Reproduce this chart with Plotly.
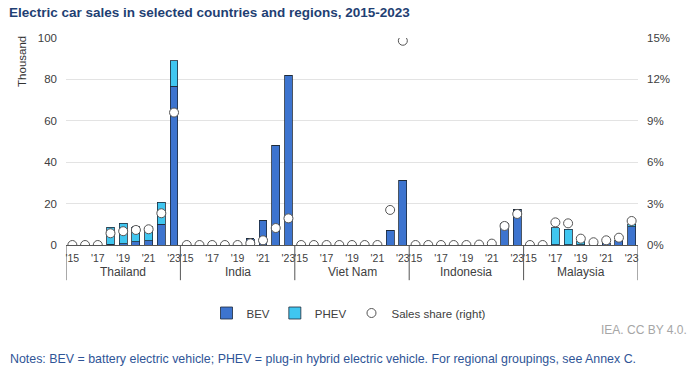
import plotly.graph_objects as go

countries = ["Thailand", "India", "Viet Nam", "Indonesia", "Malaysia"]
years = ["'15", "'16", "'17", "'18", "'19", "'20", "'21", "'22", "'23"]

bev_thailand = [0, 0, 0, 0.3, 0.6, 1.5, 2.1, 10.0, 76.7]
phev_thailand = [0, 0, 0, 8.2, 9.9, 7.4, 6.8, 10.6, 12.2]
share_thailand = [0, 0, 0, 0.85, 1.0, 1.09, 1.14, 2.3, 9.6]

bev_india = [0, 0, 0, 0, 0, 3.0, 11.8, 48.3, 82.0]
phev_india = [0, 0, 0, 0, 0, 0, 0, 0, 0]
share_india = [0, 0, 0, 0, 0, 0.12, 0.34, 1.23, 1.93]

bev_vietnam = [0, 0, 0, 0, 0, 0, 0, 7.2, 31.4]
phev_vietnam = [0, 0, 0, 0, 0, 0, 0, 0, 0]
share_vietnam = [0, 0, 0, 0, 0, 0, 0, 2.54, 14.8]

bev_indonesia = [0, 0, 0, 0, 0, 0, 0.5, 10.8, 17.2]
phev_indonesia = [0, 0, 0, 0, 0, 0, 0, 0, 0]
share_indonesia = [0, 0, 0, 0, 0, 0.03, 0.1, 1.38, 2.25]

bev_malaysia = [0, 0, 0.1, 0.1, 0.1, 0.3, 0.8, 2.0, 8.9]
phev_malaysia = [0, 0, 8.3, 7.6, 1.9, 0.1, 0.2, 0.4, 1.2]
share_malaysia = [0, 0, 1.64, 1.57, 0.46, 0.2, 0.34, 0.53, 1.74]

bev = bev_thailand + bev_india + bev_vietnam + bev_indonesia + bev_malaysia
phev = phev_thailand + phev_india + phev_vietnam + phev_indonesia + phev_malaysia
share = share_thailand + share_india + share_vietnam + share_indonesia + share_malaysia

n = len(years)
x = list(range(len(countries) * n))

FONT = "Liberation Sans, Arial, sans-serif"
BEV_C = "#3D74CF"
PHEV_C = "#40C6F0"

fig = go.Figure()
fig.add_trace(go.Bar(x=x, y=bev, name="BEV", marker=dict(color=BEV_C, line=dict(color="#1e2a3a", width=0.8)), width=0.62))
fig.add_trace(go.Bar(x=x, y=phev, name="PHEV", marker=dict(color=PHEV_C, line=dict(color="#1e2a3a", width=0.8)), width=0.62))
fig.add_trace(go.Scatter(x=x, y=share, name="Sales share (right)", mode="markers", yaxis="y2",
                         marker=dict(symbol="circle", size=9, color="white", line=dict(color="#555555", width=1))))

tickvals = [g * n + i for g in range(len(countries)) for i in range(0, n, 2)]
ticktext = [years[i] for g in range(len(countries)) for i in range(0, n, 2)]

shapes = []
for g in range(len(countries) + 1):
    shapes.append(dict(type="line", xref="x", yref="paper", x0=g * n - 0.5, x1=g * n - 0.5, y0=0, y1=-0.17,
                       line=dict(color="#555555", width=1)))

annotations = []
for g, c in enumerate(countries):
    annotations.append(dict(text=c, xref="x", yref="paper", x=g * n + (n - 1) / 2, y=-0.13, showarrow=False,
                            xanchor="center", yanchor="middle", font=dict(size=12, color="#404040", family=FONT)))
annotations.append(dict(text="Thousand", xref="paper", yref="paper", x=-0.077, y=0.889, textangle=-90,
                        showarrow=False, xanchor="center", yanchor="middle", font=dict(size=11.5, color="#333333", family=FONT)))
annotations.append(dict(text="IEA. CC BY 4.0.", xref="paper", yref="paper", x=1.089, y=(245 - 330) / 207, showarrow=False,
                        xanchor="right", yanchor="middle", font=dict(size=12, color="#a6a6a6", family=FONT)))
annotations.append(dict(text="Notes: BEV = battery electric vehicle; PHEV = plug-in hybrid electric vehicle. For regional groupings, see Annex C.",
                        xref="paper", yref="paper", x=-0.101, y=(245 - 359) / 207, showarrow=False, xanchor="left", yanchor="middle",
                        font=dict(size=12.4, color="#2F5597", family=FONT)))

fig.update_layout(
    width=699, height=375,
    margin=dict(l=66, r=61, t=38, b=130),
    paper_bgcolor="white", plot_bgcolor="white",
    barmode="stack", bargap=0.35,
    font=dict(family=FONT, size=12, color="#404040"),
    title=dict(text="<b>Electric car sales in selected countries and regions, 2015-2023</b>",
               x=9 / 699, xanchor="left", y=1 - 12 / 375, yanchor="middle", xref="container", yref="container",
               font=dict(size=13.5, color="#1F3F73", family=FONT)),
    xaxis=dict(range=[-0.5, len(x) - 0.5], tickvals=tickvals, ticktext=ticktext, showline=True, tickangle=0,
               linecolor="#555555", linewidth=1, showgrid=False, zeroline=False, ticks="", ticklabelstandoff=3,
               tickfont=dict(size=10.5, color="#404040")),
    yaxis=dict(range=[0, 100], dtick=20, showgrid=True, gridcolor="#e3e3e3", gridwidth=1, zeroline=False,
               ticks="", ticklabelstandoff=8, tickfont=dict(size=11.5, color="#404040")),
    yaxis2=dict(range=[0, 15], dtick=3, ticksuffix="%", overlaying="y", side="right", showgrid=False, zeroline=False,
                ticks="", ticklabelstandoff=8, tickfont=dict(size=11.5, color="#404040")),
    legend=dict(orientation="h", x=(349 - 66) / 572, xanchor="center", y=(245 - 313) / 207, yanchor="middle",
                font=dict(size=11.5, color="#404040", family=FONT), itemwidth=30, traceorder="normal"),
    shapes=shapes, annotations=annotations,
)

fig.write_html("out.html", config={"displayModeBar": False},
               post_script="document.body.style.margin='0';document.body.style.padding='0';")
